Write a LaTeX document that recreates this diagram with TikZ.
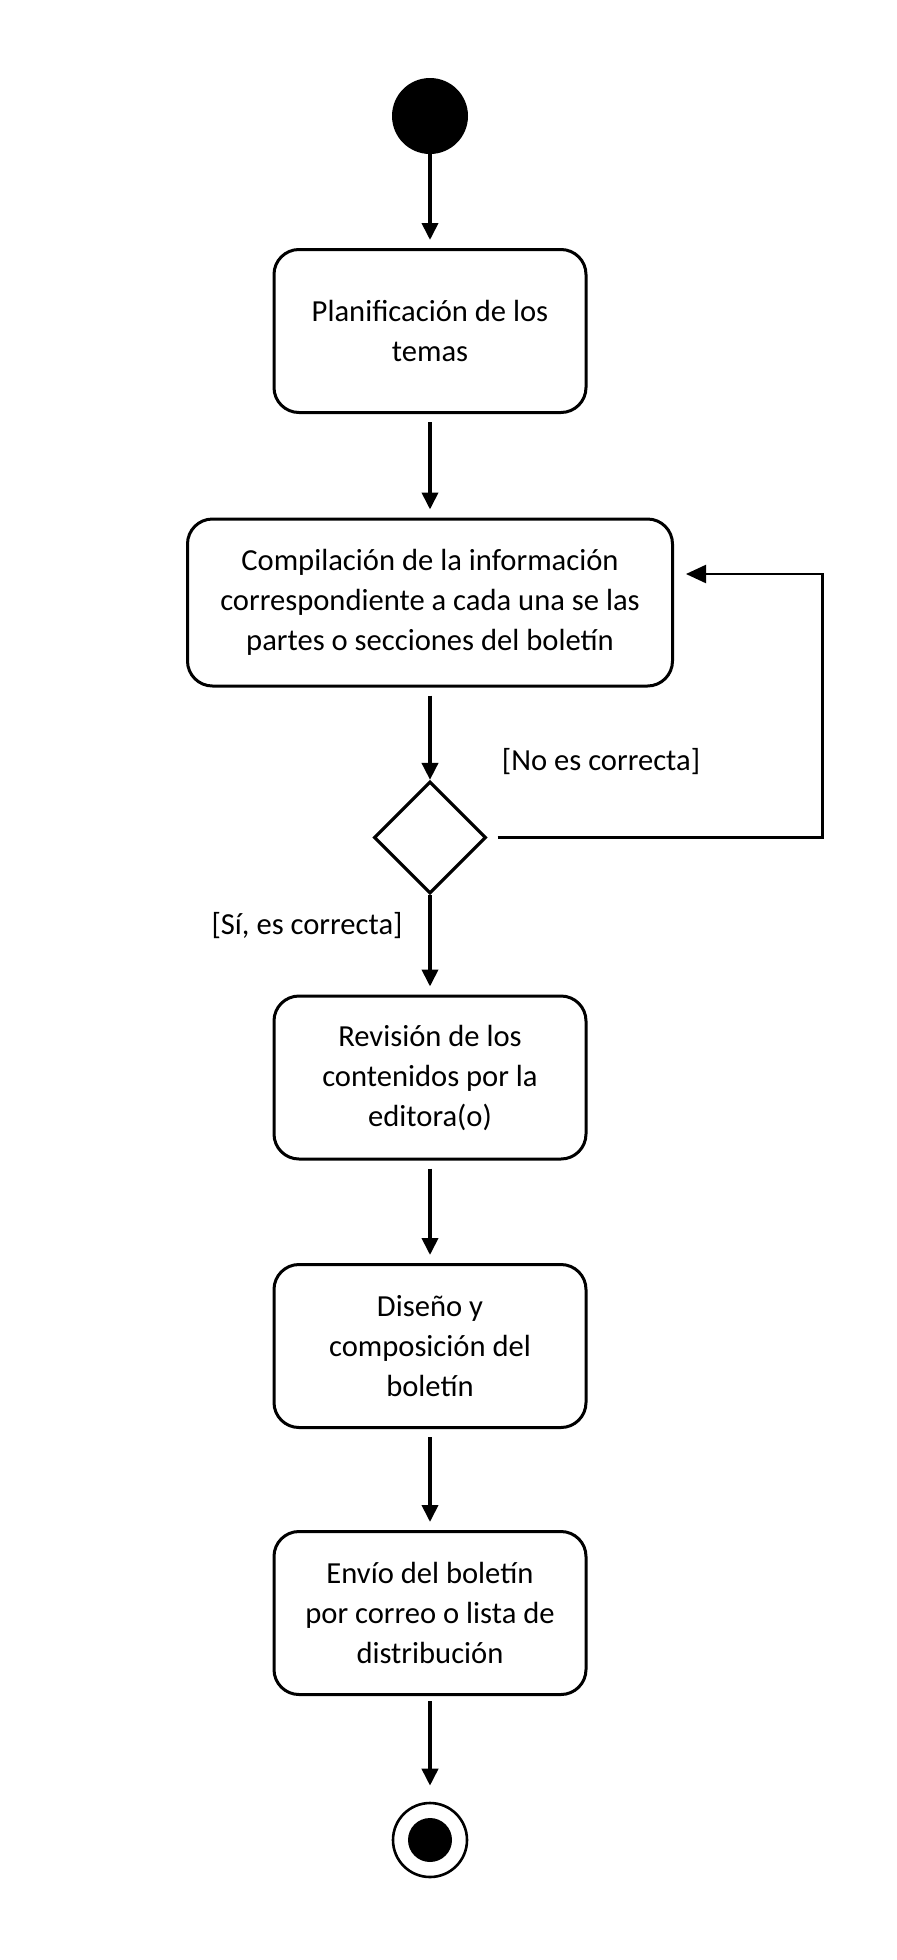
\documentclass[tikz,border=0pt]{standalone}
\usepackage{fontspec}
\setmainfont{Carlito}
\usetikzlibrary{shapes.geometric,arrows.meta}

\begin{document}
\begin{tikzpicture}[x=0.5pt,y=-0.5pt,
    attivita/.style={draw,line width=1.5pt,rounded corners=12.5pt,align=center,
        minimum width=156pt,minimum height=81.5pt,font=\fontsize{15.3}{20}\selectfont},
    rombo/.style={draw,diamond,line width=1.6pt,minimum width=56pt,minimum height=56pt,inner sep=0pt},
    freccia/.style={line width=1.9pt,-{Triangle[length=8.5pt,width=8pt]},shorten >=4pt,shorten <=4pt},
    guardia/.style={font=\fontsize{15.3}{18}\selectfont}]
    %area del disegno
    \useasboundingbox (0,0) rectangle (897,1960);

    %nodo iniziale
    \node[circle,fill=black,minimum size=38pt,inner sep=0pt] (inizio) at (430,116) {};

    %\node[opzioni] (label) at (coordinata pt) {testo};
    \node[attivita] (pianificazione) at (430,331) {Planificación de los\\temas};
    \node[attivita,minimum width=242.5pt,minimum height=83.5pt] (compilazione) at (430,602.5)
        {Compilación de la información\\correspondiente a cada una se las\\partes o secciones del boletín};
    \node[rombo] (decisione) at (430,837.5) {};
    \node[attivita] (revisione) at (430,1077.5) {Revisión de los\\contenidos por la\\editora(o)};
    \node[attivita] (design) at (430,1346) {Diseño y\\composición del\\boletín};
    \node[attivita] (invio) at (430,1613) {Envío del boletín\\por correo o lista de\\distribución};

    %nodo finale
    \node[circle,draw,line width=1.3pt,minimum size=37pt,inner sep=0pt] (fine) at (430,1840) {};
    \node[circle,fill=black,minimum size=22pt,inner sep=0pt] (finepieno) at (fine) {};

    %condizioni
    \node[guardia] (no) at (601,762) {[No es correcta]};
    \node[guardia] (si) at (307,926) {[Sí, es correcta]};

    % frecce
    \draw[freccia,shorten <=0pt] (inizio) -- (pianificazione);
    \draw[freccia] (pianificazione) -- (compilazione);
    \draw[freccia,shorten >=0pt] (compilazione) -- (decisione);
    \draw[freccia,shorten <=0pt] (decisione) -- (revisione);
    \draw[freccia] (revisione) -- (design);
    \draw[freccia] (design) -- (invio);
    \draw[freccia,shorten <=2.5pt,shorten >=8pt] (invio) -- (fine);

    % ritorno
    \coordinate (ritorno) at (822.5,574);
    \draw[freccia,line width=1.1pt,-{Triangle[length=10pt,width=9pt]},shorten <=5pt,shorten >=6pt]
        (decisione.east) -| (ritorno) -- (compilazione.east |- ritorno);

\end{tikzpicture}
\end{document}
